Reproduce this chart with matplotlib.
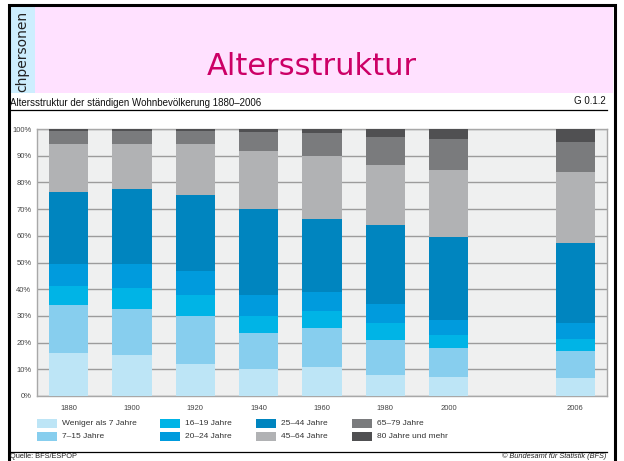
import matplotlib
matplotlib.use('Agg')
import matplotlib.pyplot as plt
from matplotlib.patches import Rectangle
import numpy as np

W, H = 624, 461

years = ['1880', '1900', '1920', '1940', '1960', '1980', '2000', '2006']

# shares of the resident population in percent, per age group
under_7   = [16.0, 15.4, 11.9, 10.0, 11.0,  7.7,  7.2,  6.9]
age_7_15  = [18.1, 17.3, 18.1, 13.6, 14.3, 13.3, 10.9, 10.0]
age_16_19 = [ 7.2,  7.7,  7.7,  6.4,  6.7,  6.3,  4.6,  4.4]
age_20_24 = [ 8.1,  9.0,  9.1,  7.7,  6.9,  7.3,  5.9,  6.0]
age_25_44 = [26.9, 28.3, 28.6, 32.2, 27.4, 29.4, 31.0, 29.9]
age_45_64 = [18.2, 16.8, 19.1, 21.7, 23.7, 22.4, 24.9, 26.8]
age_65_79 = [ 4.9,  4.9,  4.9,  7.2,  8.4, 10.6, 11.6, 11.3]
age_80_up = [ 0.6,  0.6,  0.6,  1.2,  1.6,  3.0,  3.9,  4.7]

series = [under_7, age_7_15, age_16_19, age_20_24,
          age_25_44, age_45_64, age_65_79, age_80_up]
labels = ['Weniger als 7 Jahre', '7–15 Jahre', '16–19 Jahre', '20–24 Jahre',
          '25–44 Jahre', '45–64 Jahre', '65–79 Jahre', '80 Jahre und mehr']
colors = ['#bde5f6', '#87ceee', '#00b4e6', '#009bdd',
          '#0085bf', '#b1b2b4', '#7a7b7d', '#505052']

FONT = ['Liberation Sans Narrow', 'Liberation Sans', 'DejaVu Sans']


def frac(x0, y0, x1, y1):
    # pixel box (top-left origin) -> figure fraction rect
    return [x0 / W, 1 - y1 / H, (x1 - x0) / W, (y1 - y0) / H]


fig = plt.figure(figsize=(W / 100, H / 100), dpi=100)

# background layer in pixel coordinates
bg = fig.add_axes([0, 0, 1, 1])
bg.set_xlim(0, W)
bg.set_ylim(H, 0)
bg.axis('off')

bg.add_patch(Rectangle((35, 7), 578, 86, color='#ffe1ff', lw=0))
bg.add_patch(Rectangle((10, 7), 25, 86, color='#cdeefe', lw=0))
# slide frame
bg.plot([9, 9, 615, 615], [461, 5.5, 5.5, 461], color='black', lw=2.2,
        solid_joinstyle='miter')

bg.text(22.5, 92, 'chpersonen', rotation=90, ha='center', va='bottom',
        fontsize=10, family='DejaVu Sans', color='#222222')

bg.text(312, 75, 'Altersstruktur', ha='center', va='baseline', fontsize=22,
        color='#cc0066', family='DejaVu Sans')

bg.text(10, 103, 'Altersstruktur der ständigen Wohnbevölkerung 1880–2006',
        ha='left', va='center', fontsize=7.0, family=FONT, color='#111111')
bg.text(606, 101, 'G 0.1.2', ha='right', va='center', fontsize=7,
        family=FONT, color='#111111')
bg.plot([10, 607], [110.5, 110.5], color='black', lw=0.9)
bg.plot([10, 607], [452, 452], color='black', lw=0.9)
bg.text(10, 456.5, 'Quelle: BFS/ESPOP', ha='left', va='center', fontsize=5.3,
        family=FONT, color='#222222')
bg.text(606, 456.5, '© Bundesamt für Statistik (BFS)', ha='right',
        va='center', fontsize=5.3, family=FONT, style='italic',
        color='#222222')

# chart
ax = fig.add_axes(frac(37, 129, 607, 396))
ax.set_facecolor('#eff0f0')
positions = np.append(np.arange(7), 8)
bottom = np.zeros(len(years))
for vals, col, lab in zip(series, colors, labels):
    ax.bar(positions, vals, bottom=bottom, width=0.62, color=col, lw=0,
           label=lab, zorder=3)
    bottom += np.array(vals)

ax.set_xlim(-0.5, 8.5)
ax.set_ylim(0, 100)
ax.set_yticks(np.arange(0, 101, 10))
ax.set_yticklabels([f'{v}%' for v in range(0, 101, 10)])
ax.set_xticks(positions)
ax.set_xticklabels(years)
ax.tick_params(axis='both', length=0, labelsize=5.5, colors='#444444')
ax.tick_params(axis='y', pad=4)
ax.tick_params(axis='x', pad=6.5)
for lab in ax.get_xticklabels() + ax.get_yticklabels():
    lab.set_family(FONT)
ax.grid(axis='y', color='#9c9c9c', lw=1.0, zorder=1)
for sp in ax.spines.values():
    sp.set_color('#a8a8a8')
    sp.set_linewidth(1.0)

# legend, two rows, filled column by column
col_x = [37, 160, 256, 352]
row_y = [423, 436.5]
for i, (lab, col) in enumerate(zip(labels, colors)):
    x = col_x[i // 2]
    y = row_y[i % 2]
    bg.add_patch(Rectangle((x, y - 4.5), 20, 9, color=col, lw=0))
    bg.text(x + 25, y, lab, ha='left', va='center', fontsize=6,
            family=FONT, color='#333333')

fig.savefig('out.png', dpi=100)
